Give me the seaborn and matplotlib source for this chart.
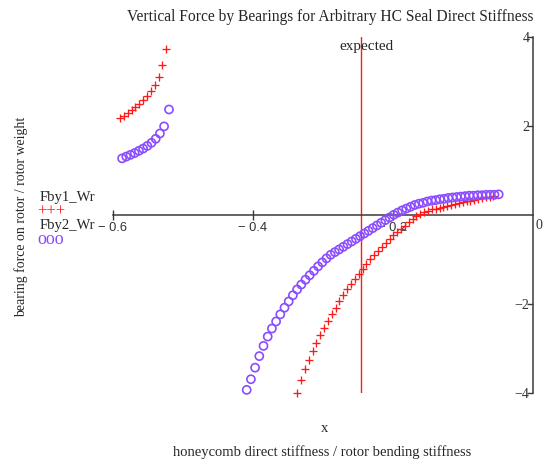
import matplotlib
matplotlib.use("Agg")
import matplotlib.pyplot as plt
import seaborn as sns
import pandas as pd

# ---------------- data ----------------
title = "Vertical Force by Bearings for Arbitrary HC Seal Direct Stiffness"
series_names = ["Fby1_Wr", "Fby2_Wr"]

# Fby1_Wr, branch left of the pole
fby1_left_x = [-0.590, -0.5845, -0.579, -0.5735, -0.568, -0.5625, -0.557,
               -0.5515, -0.546, -0.5405, -0.535, -0.5295, -0.524]
fby1_left_y = [2.18, 2.23, 2.30, 2.36, 2.43, 2.51, 2.59,
               2.68, 2.79, 2.93, 3.10, 3.37, 3.73]

# Fby1_Wr, branch right of the pole
fby1_right_x = [-0.3370, -0.3315, -0.3260, -0.3205, -0.3150, -0.3095, -0.3040, -0.2985, -0.2930, -0.2875,
                -0.2820, -0.2765, -0.2710, -0.2655, -0.2600, -0.2545, -0.2490, -0.2435, -0.2380, -0.2325,
                -0.2270, -0.2215, -0.2160, -0.2105, -0.2050, -0.1995, -0.1940, -0.1885, -0.1830, -0.1775,
                -0.1720, -0.1665, -0.1610, -0.1555, -0.1500, -0.1445, -0.1390, -0.1335, -0.1280, -0.1225,
                -0.1170, -0.1115, -0.1060, -0.1005, -0.0950, -0.0895, -0.0840, -0.0785, -0.0730, -0.0675,
                -0.0620, -0.0565]
fby1_right_y = [-4.00, -3.70, -3.46, -3.25, -3.06, -2.88, -2.70, -2.54, -2.39, -2.23,
                -2.08, -1.94, -1.80, -1.67, -1.55, -1.44, -1.33, -1.21, -1.09, -0.99,
                -0.90, -0.80, -0.71, -0.62, -0.53, -0.45, -0.38, -0.31, -0.24, -0.16,
                -0.09, -0.02, 0.03, 0.07, 0.10, 0.13, 0.15, 0.17, 0.19, 0.21,
                0.23, 0.26, 0.28, 0.29, 0.31, 0.33, 0.35, 0.36, 0.38, 0.40,
                0.42, 0.44]

# Fby2_Wr, branch left of the pole
fby2_left_x = [-0.587, -0.581, -0.575, -0.569, -0.563, -0.557,
               -0.551, -0.545, -0.539, -0.533, -0.527, -0.520]
fby2_left_y = [1.28, 1.32, 1.36, 1.40, 1.45, 1.50,
               1.56, 1.63, 1.72, 1.84, 2.00, 2.38]

# Fby2_Wr, branch right of the pole
fby2_right_x = [-0.409, -0.403, -0.397, -0.391, -0.385, -0.379, -0.373, -0.367, -0.361, -0.355,
                -0.349, -0.343, -0.337, -0.331, -0.325, -0.319, -0.313, -0.307, -0.301, -0.295,
                -0.289, -0.283, -0.277, -0.271, -0.265, -0.259, -0.253, -0.247, -0.241, -0.235,
                -0.229, -0.223, -0.217, -0.211, -0.205, -0.199, -0.193, -0.187, -0.181, -0.175,
                -0.169, -0.163, -0.157, -0.151, -0.145, -0.139, -0.133, -0.127, -0.121, -0.115,
                -0.109, -0.103, -0.097, -0.091, -0.085, -0.079, -0.073, -0.067, -0.061, -0.055,
                -0.049]
fby2_right_y = [-3.93, -3.69, -3.43, -3.17, -2.94, -2.73, -2.55, -2.39, -2.23, -2.08,
                -1.94, -1.80, -1.67, -1.56, -1.45, -1.35, -1.25, -1.15, -1.06, -0.97,
                -0.89, -0.83, -0.77, -0.71, -0.65, -0.59, -0.53, -0.47, -0.41, -0.35,
                -0.29, -0.23, -0.17, -0.11, -0.05, 0.01, 0.06, 0.11, 0.15, 0.19,
                0.23, 0.26, 0.28, 0.31, 0.33, 0.34, 0.36, 0.37, 0.39, 0.40,
                0.41, 0.42, 0.43, 0.44, 0.44, 0.45, 0.45, 0.46, 0.46, 0.46,
                0.47]

expected_x = -0.246
expected_label = "expected"

x_ticks = [-0.6, -0.4, -0.2]
x_tick_labels = ["\u2212 0.6", "\u2212 0.4", "\u2212 0.2"]
y_ticks = [-4, -2, 2, 4]
y_tick_labels = ["\u22124", "\u22122", "2", "4"]
x_label = "x"
x_desc = "honeycomb direct stiffness / rotor bending stiffness"
y_label = "bearing force on rotor / rotor weight"

RED = "#ff1a1a"
PURPLE = "#8a4cff"
AXIS = "#3a3a3a"

# ---------------- build frames ----------------
df1 = pd.DataFrame({"x": fby1_left_x + fby1_right_x, "y": fby1_left_y + fby1_right_y})
df2 = pd.DataFrame({"x": fby2_left_x + fby2_right_x, "y": fby2_left_y + fby2_right_y})

sns.set_style("white")
plt.rcParams["font.family"] = ["Liberation Serif", "DejaVu Serif"]

W, H = 544, 459
fig = plt.figure(figsize=(W / 100, H / 100), dpi=100)
ax = fig.add_axes([113 / W, 1 - 393 / H, 420 / W, 355.5 / H])
ax.set_facecolor("none")

ax.axvline(expected_x, color=RED, lw=1.0, zorder=1)

sns.scatterplot(data=df1, x="x", y="y", marker="+", color=RED, s=40,
                linewidth=0.95, ax=ax, legend=False, clip_on=False, zorder=3)
sns.scatterplot(data=df2, x="x", y="y", marker="o", color=PURPLE, s=34,
                linewidth=1.2, ax=ax, legend=False, clip_on=False, zorder=3)
coll = ax.collections[-1]
coll.set_facecolor("none")
coll.set_edgecolor(PURPLE)

ax.set_xlim(-0.6, 0.0)
ax.set_ylim(-4, 4)

for s in ["top", "right"]:
    ax.spines[s].set_visible(False)
ax.spines["bottom"].set_position(("data", 0))
ax.spines["bottom"].set_bounds(-0.6, 0)
ax.spines["left"].set_position(("data", 0))
ax.spines["left"].set_bounds(-4, 4)
for s in ["bottom", "left"]:
    ax.spines[s].set_color(AXIS)
    ax.spines[s].set_linewidth(1.1)
    ax.spines[s].set_zorder(2)

ax.set_xticks(x_ticks)
ax.set_xticklabels(x_tick_labels, family=["Liberation Sans", "DejaVu Sans"], fontsize=9.3, color="#333333")
ax.set_yticks(y_ticks)
ax.set_yticklabels(y_tick_labels, fontsize=10, color="#333333")
ax.tick_params(axis="x", direction="inout", length=7, width=1, color=AXIS, pad=1.5, bottom=True)
ax.tick_params(axis="y", direction="out", length=4, width=1, color=AXIS, pad=-1.5, left=True)
ax.set_xlabel("")
ax.set_ylabel("")

ax.annotate("0", xy=(0, 0), xytext=(2, -3), textcoords="offset points",
            ha="left", va="top", fontsize=10, color="#333333")
ax.annotate(expected_label, xy=(expected_x, 3.79), xytext=(4, 0), textcoords="offset points",
            ha="center", va="center", fontsize=11, zorder=4)

fig.text(330 / W, 1 - 17 / H, title, ha="center", va="center", fontsize=11.2)
fig.text(325 / W, 1 - 428 / H, x_label, ha="center", va="center", fontsize=10.5)
fig.text(322 / W, 1 - 452 / H, x_desc, ha="center", va="center", fontsize=10.5)
fig.text(21 / W, 1 - 217 / H, y_label, rotation=90, ha="center", va="center", fontsize=10)

# legend block
fig.text(40 / W, 1 - 198 / H, series_names[0], ha="left", va="center", fontsize=10.5)
fig.text(37 / W, 1 - 212 / H, "+++", ha="left", va="center", fontsize=12, color=RED)
fig.text(40 / W, 1 - 225 / H, series_names[1], ha="left", va="center", fontsize=10.5)
fig.text(37 / W, 1 - 239 / H, "ooo", ha="left", va="center", fontsize=13, color=PURPLE)

fig.savefig("out.png", dpi=100)
